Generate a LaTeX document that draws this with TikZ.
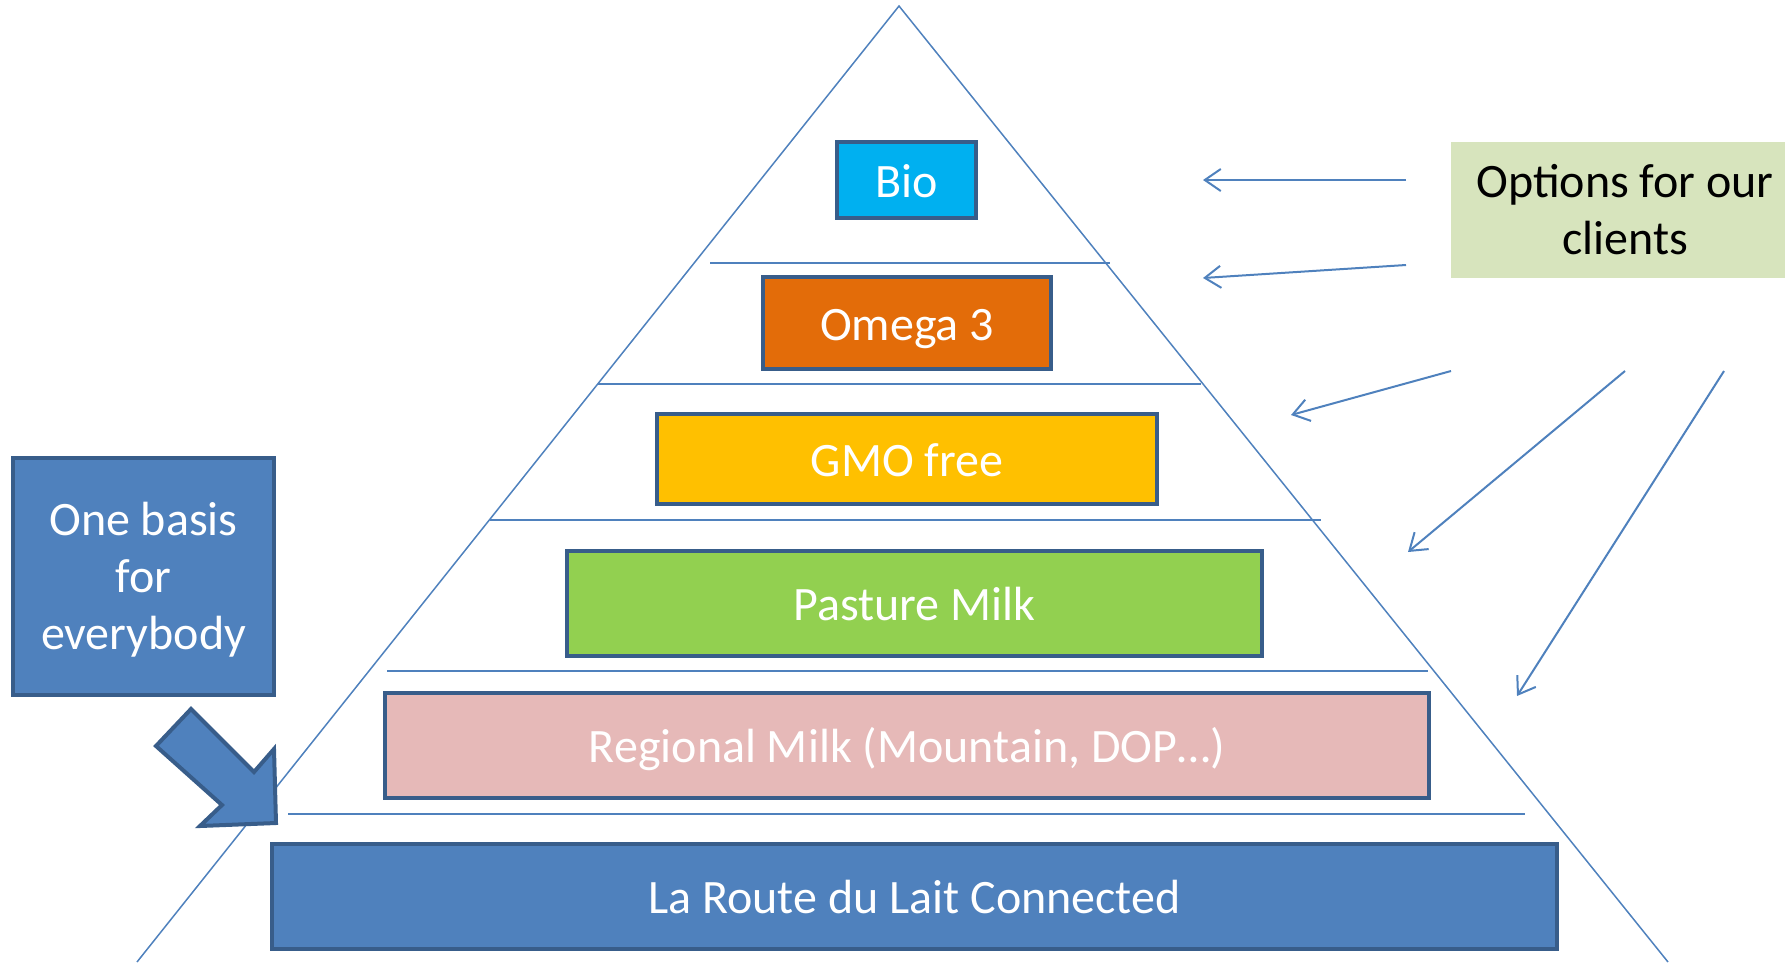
\documentclass[tikz,border=0pt]{standalone}
\usepackage{fontspec}
\setmainfont{Carlito}
\usetikzlibrary{arrows.meta}
\definecolor{lineblue}{RGB}{79,129,189}
\definecolor{borderblue}{RGB}{56,93,138}
\definecolor{biofill}{RGB}{0,176,240}
\definecolor{omegafill}{RGB}{227,108,9}
\definecolor{gmofill}{RGB}{255,192,0}
\definecolor{pasturefill}{RGB}{146,208,80}
\definecolor{regionalfill}{RGB}{230,185,184}
\definecolor{routefill}{RGB}{79,129,189}
\definecolor{optfill}{RGB}{215,228,189}
\tikzset{
  bigfont/.style={font=\fontsize{48}{57}\selectfont},
  tier/.style={draw=borderblue, line width=4.5pt, text=white, inner sep=0pt,
    bigfont, text height=44pt, text depth=9.6pt},
  divider/.style={draw=lineblue, line width=1.5pt},
  optarrow/.style={draw=lineblue, line width=2pt, -{Straight Barb[length=16pt,width=22pt,line width=2pt]}},
}
\begin{document}
\begin{tikzpicture}[x=1pt,y=-1pt]
\useasboundingbox (0,0) rectangle (1785,962);
\clip (0,0) rectangle (1785,962);
% pyramid
\coordinate (apex) at (899,6);
\coordinate (bl) at (137,962);
\coordinate (br) at (1668,962);
\draw[divider] (bl) -- (apex) -- (br);
% dividers
\draw[divider] (710,263) -- (1110,263);
\draw[divider] (598,384) -- (1201,384);
\draw[divider] (490,520) -- (1321,520);
\draw[divider] (387,671) -- (1428,671);
\draw[divider] (288,814) -- (1525,814);
% tiers
\node[tier, fill=biofill, minimum width=139pt, minimum height=76pt] (bio) at (906.5,180) {Bio};
\node[tier, fill=omegafill, minimum width=288pt, minimum height=92pt] (omega) at (907,323) {Omega 3};
\node[tier, fill=gmofill, minimum width=500pt, minimum height=90pt] (gmo) at (907,459) {GMO free};
\node[tier, fill=pasturefill, minimum width=695pt, minimum height=105pt] (pasture) at (914.5,603.5) {Pasture Milk};
\node[tier, fill=regionalfill, minimum width=1044pt, minimum height=105pt] (regional) at (907,745.5) {Regional Milk (Mountain, DOP\ldots)};
\node[tier, fill=routefill, minimum width=1285pt, minimum height=105pt] (route) at (914.5,896.5) {La Route du Lait Connected};
% left box
\node[draw=borderblue, line width=4.5pt, fill=routefill, minimum width=261pt, minimum height=237pt] (basis) at (143.5,576.5) {};
\node[bigfont, text=white, align=center, inner sep=0pt] (basistext) at (143.5,580) {One basis\\for\\everybody};
% big arrow
\draw[draw=borderblue, fill=routefill, line width=4pt, line join=miter]
  (156,746) -- (191,709) -- (254,772) -- (274,749) -- (276,823) -- (200,826) -- (222,805) -- cycle;
% options box
\fill[optfill] (1451,142) rectangle (1800,278);
\node[bigfont, align=center, text=black] (options) at (1625,210) {Options for our\\clients};
% arrows
\coordinate (s1) at (1406,180);
\coordinate (e1) at (1203,180);
\coordinate (s2) at (1406,265);
\coordinate (e2) at (1203,278);
\coordinate (s3) at (1451,371);
\coordinate (e3) at (1291,415);
\coordinate (s4) at (1625,371);
\coordinate (e4) at (1408,552);
\coordinate (s5) at (1724,371);
\coordinate (e5) at (1517,696);
\draw[optarrow] (s1) -- (e1);
\draw[optarrow] (s2) -- (e2);
\draw[optarrow] (s3) -- (e3);
\draw[optarrow] (s4) -- (e4);
\draw[optarrow] (s5) -- (e5);
\end{tikzpicture}
\end{document}
